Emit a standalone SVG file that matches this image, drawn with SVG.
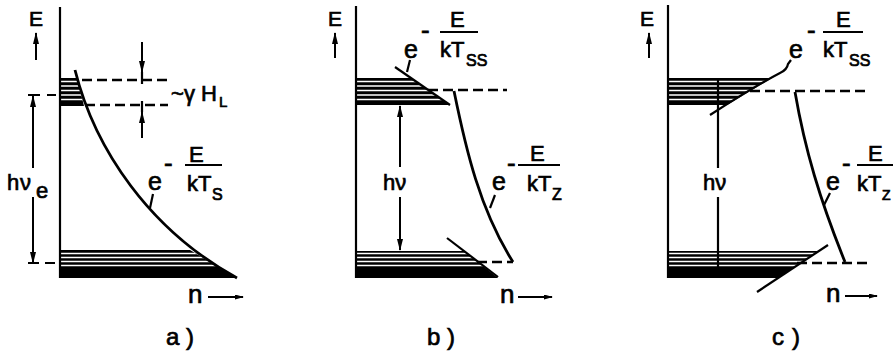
<svg xmlns="http://www.w3.org/2000/svg" width="893" height="356" viewBox="0 0 893 356">
<style>
text{font-family:"Liberation Sans",Arial,sans-serif;fill:#000;stroke:#000;stroke-width:0.7}
.ln{stroke:#000;stroke-width:2.2;fill:none}
.cv{stroke:#000;stroke-width:2.8;fill:none}
.ds{stroke:#000;stroke-width:2.3;fill:none;stroke-dasharray:10 5}
.st{stroke:#fff;stroke-width:1.4}
.ax{font-size:21px}
.m{font-size:26px}
.f{font-size:22px}
.e{font-size:25px}
.sub{font-size:16px}
.n{font-size:26px}
.lab{font-size:24px}
.arr{stroke:#000;stroke-width:2;fill:none;marker-end:url(#ah)}
.arrs{stroke:#000;stroke-width:2;fill:none;marker-end:url(#as)}
</style>
<defs>
<marker id="ah" viewBox="0 0 12 6" refX="11" refY="3" markerWidth="12" markerHeight="6" orient="auto" markerUnits="userSpaceOnUse"><path d="M0,0L12,3L0,6z"/></marker>
<marker id="as" viewBox="0 0 9 5" refX="8" refY="2.5" markerWidth="9" markerHeight="5" orient="auto" markerUnits="userSpaceOnUse"><path d="M0,0L9,2.5L0,5z"/></marker>
<clipPath id="ca1"><polygon points="60,78 77,78 84,106 60,106"/></clipPath>
<clipPath id="ca2"><polygon points="60,250 190,250 237,278 60,278"/></clipPath>
<clipPath id="cb1"><polygon points="356,78 411,78 450,105 356,105"/></clipPath>
<clipPath id="cb2"><polygon points="356,251 464,251 498,278 356,278"/></clipPath>
<clipPath id="cc1"><polygon points="668,78 772,78 727,105 668,105"/></clipPath>
<clipPath id="cc2"><polygon points="668,251 818,251 778,278 668,278"/></clipPath>
<g id="stripesU" class="st"><line x1="0" y1="81.5" x2="893" y2="81.5"/><line x1="0" y1="86" x2="893" y2="86"/><line x1="0" y1="90.5" x2="893" y2="90.5"/><line x1="0" y1="95" x2="893" y2="95"/><line x1="0" y1="99.5" x2="893" y2="99.5"/></g>
<g id="stripesL" class="st"><line x1="0" y1="253.5" x2="893" y2="253.5"/><line x1="0" y1="257.5" x2="893" y2="257.5"/><line x1="0" y1="261.5" x2="893" y2="261.5"/><line x1="0" y1="265.5" x2="893" y2="265.5"/></g>
</defs>
<rect width="893" height="356" fill="#fff"/>

<g id="panel-a">
  <g id="a-bands">
    <g clip-path="url(#ca1)"><rect x="55" y="70" width="40" height="40"/><use href="#stripesU"/></g>
    <g clip-path="url(#ca2)"><rect x="55" y="245" width="190" height="40"/><use href="#stripesL"/></g>
  </g>
  <g id="a-lines">
    <path class="ln" d="M60,7V278"/>
    <path class="arr" d="M36,60V33"/>
    <path class="ds" d="M82,80H170"/>
    <path class="ds" d="M85,105H168"/>
    <path class="arr" d="M142,42V72"/><path class="ln" d="M142,72V84"/>
    <path class="arr" d="M142,138V112"/><path class="ln" d="M142,112V101"/>
    <path class="ln" d="M28,95H40M47,95H56"/>
    <path class="arr" d="M33,168V96"/>
    <path class="arr" d="M33,197V263"/>
    <path class="ln" d="M28,263H39M45,263H55"/>
    <path class="cv" d="M75,70C95,150 150,230 237,278"/>
    <path class="ln" d="M153,194L150,208"/>
    <path class="ln" d="M185,165H222"/>
    <path class="arrs" d="M208,297H243"/>
  </g>
  <g id="a-text">
    <text class="ax" x="29" y="26">E</text>
    <text class="f" y="101"><tspan x="171">~</tspan><tspan x="184">γ</tspan><tspan x="201">H</tspan><tspan x="219" y="107" font-size="15">L</tspan></text>
    <text class="f" y="190"><tspan x="7">h</tspan><tspan x="20">ν</tspan><tspan x="36" y="198" font-size="22">e</tspan></text>
    <text class="e" x="148" y="190">e</text>
    <text class="m" x="164" y="172">-</text>
    <text class="f" x="189" y="162">E</text>
    <text class="f" x="187" y="191">kT<tspan class="sub" x="212" y="200">S</tspan></text>
    <text class="n" x="188" y="303">n</text>
    <text class="lab" y="345"><tspan x="166">a</tspan><tspan x="186">)</tspan></text>
  </g>
</g>

<g id="panel-b">
  <g id="b-bands">
    <g clip-path="url(#cb1)"><rect x="350" y="70" width="110" height="40"/><use href="#stripesU"/></g>
    <g clip-path="url(#cb2)"><rect x="350" y="245" width="160" height="40"/><use href="#stripesL"/></g>
  </g>
  <g id="b-lines">
    <path class="ln" d="M356,6V278"/>
    <path class="arr" d="M335,58V33"/>
    <path class="ln" d="M395,67L450,105"/>
    <path class="ln" d="M410,60L407,72"/>
    <path class="ds" d="M428,90H507"/>
    <path class="cv" d="M454,91C466,150 480,210 513,262"/>
    <path class="ds" d="M477,262H513"/>
    <path class="ln" d="M447,238L498,277"/>
    <path class="arr" d="M400,167V106"/>
    <path class="arr" d="M400,197V250"/>
    <path class="ln" d="M495,195L490,208"/>
    <path class="ln" d="M440,32H478"/>
    <path class="ln" d="M518,165H560"/>
    <path class="arrs" d="M518,297H552"/>
  </g>
  <g id="b-text">
    <text class="ax" x="328" y="26">E</text>
    <text class="e" x="404" y="58">e</text>
    <text class="m" x="421" y="39">-</text>
    <text class="f" x="450" y="27">E</text>
    <text class="f" x="440" y="57">kT<tspan class="sub" x="466" y="66">SS</tspan></text>
    <text class="e" x="492" y="190">e</text>
    <text class="m" x="507" y="172">-</text>
    <text class="f" x="530" y="161">E</text>
    <text class="f" x="527" y="191">kT<tspan class="sub" x="552" y="200">Z</tspan></text>
    <text class="f" x="383" y="190">hν</text>
    <text class="n" x="500" y="303">n</text>
    <text class="lab" y="345"><tspan x="427">b</tspan><tspan x="447">)</tspan></text>
  </g>
</g>

<g id="panel-c">
  <g id="c-bands">
    <g clip-path="url(#cc1)"><rect x="660" y="70" width="120" height="40"/><use href="#stripesU"/></g>
    <g clip-path="url(#cc2)"><rect x="660" y="245" width="170" height="40"/><use href="#stripesL"/></g>
  </g>
  <g id="c-lines">
    <path class="ln" d="M668,5V278"/>
    <path class="arr" d="M649,58V33"/>
    <path class="ln" d="M710,115Q755,86 780,73Q787,70 788,64L791,60"/>
    <path class="ds" d="M750,91H868"/>
    <path class="cv" d="M795,92C805,150 820,200 845,262"/>
    <path class="ds" d="M797,263H868"/>
    <path class="ln" d="M757,292L828,245"/>
    <path class="ln" d="M718,78V168M718,197V275"/>
    <path class="ln" d="M830,193L824,205"/>
    <path class="ln" d="M823,32H863"/>
    <path class="ln" d="M857,165H893"/>
    <path class="arrs" d="M845,296H877"/>
  </g>
  <g id="c-text">
    <text class="ax" x="640" y="26">E</text>
    <text class="e" x="789" y="58">e</text>
    <text class="m" x="807" y="39">-</text>
    <text class="f" x="836" y="27">E</text>
    <text class="f" x="823" y="57">kT<tspan class="sub" x="849" y="66">SS</tspan></text>
    <text class="e" x="826" y="190">e</text>
    <text class="m" x="842" y="172">-</text>
    <text class="f" x="868" y="161">E</text>
    <text class="f" x="857" y="191">kT<tspan x="882" y="200" font-size="14">Z</tspan></text>
    <text class="f" x="703" y="190">hν</text>
    <text class="n" x="826" y="302">n</text>
    <text class="lab" y="345"><tspan x="772">c</tspan><tspan x="792">)</tspan></text>
  </g>
</g>
</svg>
